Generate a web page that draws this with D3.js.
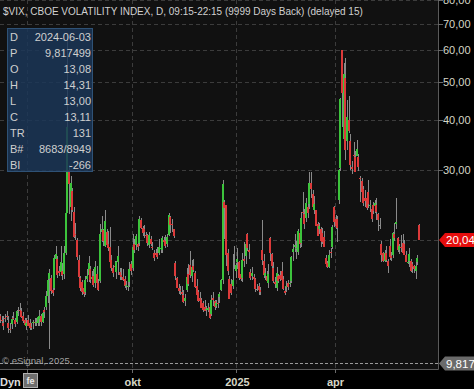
<!DOCTYPE html>
<html>
<head>
<meta charset="utf-8">
<script src="https://cdn.jsdelivr.net/npm/d3@7"></script>
<style>
html, body { margin: 0; padding: 0; background: #000; overflow: hidden; }
svg { display: block; font-family: "Liberation Sans", Arial, sans-serif; }
</style>
</head>
<body>
<div id="chart"></div>
<script>
// daily candles: date, open, high, low, close
var jun24 = [
  ["2024-06-05",12.9,13.1,12.4,12.63],["2024-06-06",12.6,12.9,12.3,12.58],["2024-06-07",12.4,12.9,11.9,12.22],
  ["2024-06-10",12.8,13.1,12.5,12.74],["2024-06-11",12.9,13.3,12.6,12.85],["2024-06-12",12.4,12.9,11.7,12.04],
  ["2024-06-13",12.0,12.4,11.7,11.94],["2024-06-14",12.3,12.9,12.0,12.66],["2024-06-17",12.8,13.2,12.6,12.75],
  ["2024-06-18",12.6,12.8,12.1,12.30],["2024-06-20",12.5,13.4,12.3,13.28],["2024-06-21",13.2,13.6,12.9,13.20],
  ["2024-06-24",13.4,13.9,12.9,13.33],["2024-06-25",13.3,13.5,12.8,12.84],["2024-06-26",12.9,13.2,12.4,12.55],
  ["2024-06-27",12.6,12.8,12.2,12.24],["2024-06-28",12.2,12.8,11.9,12.44]
];
var jul24 = [
  ["2024-07-01",12.6,13.0,12.2,12.22],["2024-07-02",12.4,12.7,11.9,12.03],["2024-07-03",12.1,12.4,11.9,12.09],
  ["2024-07-05",12.4,12.6,12.0,12.48],["2024-07-08",12.5,12.8,12.2,12.37],["2024-07-09",12.4,12.8,12.2,12.51],
  ["2024-07-10",12.4,12.9,12.2,12.85],["2024-07-11",12.7,13.4,12.2,12.89],["2024-07-12",12.9,13.1,12.2,12.46],
  ["2024-07-15",12.5,13.4,12.4,13.12],["2024-07-16",13.4,13.6,12.8,13.19],["2024-07-17",13.6,14.9,13.4,14.48],
  ["2024-07-18",14.5,16.4,13.9,15.93],["2024-07-19",16.0,16.9,10.7,16.52],["2024-07-22",16.1,16.4,14.7,14.91],
  ["2024-07-23",15.0,15.4,14.5,14.72],["2024-07-24",15.2,18.4,15.0,18.04],["2024-07-25",18.0,19.4,17.3,18.46],
  ["2024-07-26",18.0,18.3,16.1,16.39],["2024-07-29",16.8,17.2,16.3,16.60],["2024-07-30",16.7,19.4,16.3,17.69],
  ["2024-07-31",16.8,17.5,15.9,16.36]
];
var aug24 = [
  ["2024-08-01",16.5,19.4,16.0,18.59],["2024-08-02",18.6,29.7,18.4,23.39],["2024-08-05",23.4,65.7,23.4,38.57],
  ["2024-08-06",30.0,31.0,23.3,27.71],["2024-08-07",24.3,29.0,22.4,27.85],["2024-08-08",26.6,27.0,23.5,23.79],
  ["2024-08-09",23.5,24.2,20.3,20.37],["2024-08-12",20.8,22.1,20.0,20.71],["2024-08-13",20.0,20.3,17.9,18.12],
  ["2024-08-14",17.9,18.4,16.0,16.19],["2024-08-15",16.1,16.3,14.9,15.23],["2024-08-16",15.7,15.9,14.6,14.80],
  ["2024-08-19",15.2,15.3,14.4,14.65],["2024-08-20",14.8,16.3,14.6,15.88],["2024-08-21",16.0,16.9,15.7,16.27],
  ["2024-08-22",16.4,18.3,15.7,17.55],["2024-08-23",16.9,17.2,15.6,15.86],["2024-08-26",16.0,16.8,15.7,16.15],
  ["2024-08-27",16.3,16.9,15.3,15.43],["2024-08-28",15.6,17.8,15.2,17.11],["2024-08-29",16.5,17.2,15.2,15.65],
  ["2024-08-30",15.6,16.0,14.9,15.00]
];
var sep24 = [
  ["2024-09-03",15.8,22.0,15.6,20.72],["2024-09-04",21.0,23.0,19.8,21.32],["2024-09-05",21.2,21.4,19.4,19.90],
  ["2024-09-06",19.4,23.8,19.2,22.38],["2024-09-09",21.0,21.3,19.1,19.45],["2024-09-10",19.6,21.1,18.8,19.08],
  ["2024-09-11",19.2,21.6,17.4,17.69],["2024-09-12",17.9,18.4,16.8,17.07],["2024-09-13",17.0,17.3,16.2,16.56],
  ["2024-09-16",17.2,17.8,16.8,17.14],["2024-09-17",16.7,17.8,16.0,17.61],["2024-09-18",17.6,19.4,16.4,18.23],
  ["2024-09-19",16.7,17.0,15.9,16.33],["2024-09-20",16.4,17.0,15.9,16.15],["2024-09-23",16.2,16.9,15.8,15.89],
  ["2024-09-24",16.0,16.3,15.2,15.39],["2024-09-25",15.4,15.8,15.0,15.41],["2024-09-26",15.3,15.7,14.9,15.37],
  ["2024-09-27",15.7,17.6,15.3,16.96],["2024-09-30",17.4,17.8,16.4,16.73]
];
var oct24 = [
  ["2024-10-01",17.0,20.7,16.8,19.26],["2024-10-02",19.6,20.2,18.6,18.90],["2024-10-03",19.5,20.7,18.9,20.49],
  ["2024-10-04",19.6,20.0,18.8,19.21],["2024-10-07",19.7,23.0,19.4,22.64],["2024-10-08",22.5,22.8,21.3,21.42],
  ["2024-10-09",21.5,21.7,20.5,20.86],["2024-10-10",21.3,21.9,20.3,20.93],["2024-10-11",20.6,21.0,20.2,20.46],
  ["2024-10-14",20.6,20.8,19.4,19.70],["2024-10-15",19.5,21.0,19.1,20.64],["2024-10-16",20.2,20.5,19.4,19.58],
  ["2024-10-17",19.3,19.8,18.9,19.11],["2024-10-18",18.6,18.9,17.8,18.03],["2024-10-21",18.6,19.0,18.2,18.37],
  ["2024-10-22",18.6,19.2,18.0,18.20],["2024-10-23",18.6,20.2,18.4,19.24],["2024-10-24",19.0,19.5,18.6,19.08],
  ["2024-10-25",18.9,20.5,18.6,20.33],["2024-10-28",20.0,20.4,19.5,19.80],["2024-10-29",19.9,20.6,19.1,19.34],
  ["2024-10-30",19.6,20.8,19.3,20.35],["2024-10-31",20.6,23.4,20.5,23.16]
];
var nov24 = [
  ["2024-11-01",22.9,23.0,20.9,21.88],["2024-11-04",22.0,22.6,21.0,21.98],["2024-11-05",21.3,21.4,20.3,20.49],
  ["2024-11-06",17.5,17.8,15.9,16.27],["2024-11-07",16.1,16.2,15.2,15.20],["2024-11-08",15.2,15.5,14.7,14.94],
  ["2024-11-11",15.0,15.4,14.6,14.97],["2024-11-12",14.8,15.4,14.5,14.71],["2024-11-13",14.6,15.0,13.9,14.02],
  ["2024-11-14",14.1,14.7,13.7,14.31],["2024-11-15",15.0,17.0,14.8,16.14],["2024-11-18",16.5,17.4,15.4,15.58],
  ["2024-11-19",17.3,18.8,16.1,16.35],["2024-11-20",16.3,17.9,15.7,17.16],["2024-11-21",17.2,18.0,16.7,16.87],
  ["2024-11-22",16.6,16.8,15.2,15.24],["2024-11-25",15.4,16.0,14.5,14.60],["2024-11-26",14.8,15.0,14.0,14.10],
  ["2024-11-27",14.3,14.8,13.9,14.10],["2024-11-29",14.2,14.3,13.5,13.51]
];
var dec24 = [
  ["2024-12-02",13.9,14.1,13.2,13.34],["2024-12-03",13.6,14.2,13.3,13.30],["2024-12-04",13.4,13.7,12.9,13.45],
  ["2024-12-05",13.4,13.9,13.2,13.54],["2024-12-06",13.6,13.8,12.7,12.77],["2024-12-09",13.1,14.6,12.9,14.19],
  ["2024-12-10",14.3,14.8,13.7,14.18],["2024-12-11",14.1,14.2,13.4,13.58],["2024-12-12",13.7,14.2,13.5,13.92],
  ["2024-12-13",13.9,14.4,13.5,13.81],["2024-12-16",14.4,14.8,13.9,14.69],["2024-12-17",15.0,16.0,14.9,15.87],
  ["2024-12-18",15.9,28.3,15.5,27.62],["2024-12-19",25.0,25.3,20.1,24.09],["2024-12-20",24.6,24.6,17.2,18.36],
  ["2024-12-23",18.6,19.0,16.4,16.78],["2024-12-24",16.0,16.3,14.3,14.27],["2024-12-26",15.5,16.0,14.6,14.73],
  ["2024-12-27",15.4,18.5,15.1,15.95],["2024-12-30",17.4,19.4,16.9,17.40],["2024-12-31",16.8,17.5,16.1,17.35]
];
var jan25 = [
  ["2025-01-02",17.6,19.1,16.9,17.93],["2025-01-03",17.6,17.8,15.9,16.13],["2025-01-06",16.5,17.0,15.8,16.04],
  ["2025-01-07",16.1,18.6,15.7,17.82],["2025-01-08",18.0,19.8,17.1,17.70],["2025-01-10",18.3,20.0,17.4,19.54],
  ["2025-01-13",20.7,20.9,18.8,19.19],["2025-01-14",18.9,19.6,18.0,18.71],["2025-01-15",16.7,16.9,15.9,16.12],
  ["2025-01-16",16.3,17.1,15.9,16.60],["2025-01-17",16.2,16.5,15.6,15.97],["2025-01-21",16.0,16.1,14.8,15.06],
  ["2025-01-22",15.1,15.5,14.9,15.10],["2025-01-23",15.4,15.6,14.6,15.02],["2025-01-24",15.0,15.3,14.6,14.85],
  ["2025-01-27",18.9,22.5,17.3,17.90],["2025-01-28",17.8,18.5,16.1,16.41],["2025-01-29",16.3,17.0,15.9,16.56],
  ["2025-01-30",16.3,16.8,15.6,15.84],["2025-01-31",15.6,17.4,15.2,16.43]
];
var feb25 = [
  ["2025-02-03",20.3,20.4,17.8,18.62],["2025-02-04",18.5,18.6,16.8,17.21],["2025-02-05",17.0,17.6,15.6,15.77],
  ["2025-02-06",15.7,16.2,15.2,15.50],["2025-02-07",15.2,17.1,14.9,16.54],["2025-02-10",16.3,16.5,15.6,15.81],
  ["2025-02-11",16.4,16.8,15.8,16.02],["2025-02-12",16.8,17.6,15.8,15.89],["2025-02-13",16.0,16.3,15.0,15.10],
  ["2025-02-14",14.9,15.3,14.6,14.77],["2025-02-18",15.3,15.8,14.8,15.35],["2025-02-19",15.6,15.9,15.0,15.27],
  ["2025-02-20",15.5,16.4,15.3,15.66],["2025-02-21",15.8,18.3,15.6,18.21],["2025-02-24",18.7,19.6,17.8,18.98],
  ["2025-02-25",19.2,20.7,18.7,19.43],["2025-02-26",19.0,19.9,18.0,19.10],["2025-02-27",18.7,21.3,18.4,21.13],
  ["2025-02-28",20.9,21.5,19.1,19.63]
];
var mar25 = [
  ["2025-03-03",19.7,23.5,19.3,22.78],["2025-03-04",23.6,26.4,22.0,23.51],["2025-03-05",23.3,24.0,21.3,21.93],
  ["2025-03-06",22.8,25.5,22.3,24.87],["2025-03-07",24.2,26.6,22.8,23.37],["2025-03-10",24.7,29.6,24.0,27.86],
  ["2025-03-11",27.9,29.6,25.6,26.92],["2025-03-12",26.1,26.7,23.9,24.23],["2025-03-13",23.8,25.9,23.3,24.66],
  ["2025-03-14",23.8,23.9,21.7,21.77],["2025-03-17",22.0,22.3,20.5,20.51],["2025-03-18",21.3,22.1,20.7,21.70],
  ["2025-03-19",21.3,21.6,19.3,19.90],["2025-03-20",20.9,21.5,19.6,19.80],["2025-03-21",20.4,21.1,19.2,19.28],
  ["2025-03-24",18.1,18.4,17.2,17.48],["2025-03-25",17.5,17.7,17.0,17.15],["2025-03-26",17.1,18.9,17.0,18.33],
  ["2025-03-27",18.7,19.1,18.1,18.69],["2025-03-28",19.2,21.8,19.0,21.65],["2025-03-31",24.2,24.4,21.6,22.28]
];
var apr25 = [
  ["2025-04-01",22.6,23.2,21.3,21.77],["2025-04-02",22.6,23.0,19.8,21.51],["2025-04-03",25.3,30.2,24.7,30.02],
  ["2025-04-04",30.4,45.6,29.8,45.31],["2025-04-07",60.1,60.1,38.6,46.98],["2025-04-08",36.0,55.7,35.4,52.33],
  ["2025-04-09",51.0,57.5,31.9,33.62],["2025-04-10",35.5,45.0,33.8,40.72],["2025-04-11",40.0,46.1,37.2,37.56],
  ["2025-04-14",35.6,36.9,30.1,30.89],["2025-04-15",30.5,31.6,29.4,30.12],["2025-04-16",32.7,35.4,30.3,32.64],
  ["2025-04-17",32.4,33.5,29.6,29.65],["2025-04-21",32.6,35.7,32.5,33.82],["2025-04-22",32.4,32.9,29.9,30.57],
  ["2025-04-23",28.7,29.0,25.0,28.45],["2025-04-24",28.2,28.6,26.0,26.47],["2025-04-25",26.9,27.3,24.4,24.84],
  ["2025-04-28",25.5,26.7,24.3,25.15],["2025-04-29",25.6,25.8,23.9,24.17],["2025-04-30",26.4,28.4,24.1,24.70]
];
var may25 = [
  ["2025-05-01",24.4,25.3,23.6,24.60],["2025-05-02",24.0,24.1,22.3,22.68],["2025-05-05",24.6,25.0,23.3,23.64],
  ["2025-05-06",24.4,25.3,23.4,24.76],["2025-05-07",24.6,25.6,22.5,23.55],["2025-05-08",23.3,23.4,21.1,22.48],
  ["2025-05-09",21.9,22.7,21.4,21.90],["2025-05-12",19.6,19.9,17.6,18.39],["2025-05-13",18.6,18.7,17.6,17.72],
  ["2025-05-14",17.8,18.9,17.6,18.62],["2025-05-15",18.6,19.4,17.6,17.83],["2025-05-16",17.7,18.0,16.6,17.24],
  ["2025-05-19",19.4,20.2,17.9,18.14],["2025-05-20",18.3,18.7,17.7,18.09],["2025-05-21",18.4,21.0,18.1,20.87],
  ["2025-05-22",20.7,22.1,19.9,20.28],["2025-05-23",22.0,25.5,21.4,22.29],["2025-05-27",20.3,20.4,18.7,18.96],
  ["2025-05-28",18.9,19.6,18.5,19.31],["2025-05-29",19.3,20.6,18.7,19.18],["2025-05-30",19.7,20.8,18.4,18.57]
];
var jun25 = [
  ["2025-06-02",19.6,20.0,18.4,18.36],["2025-06-03",18.4,18.8,17.6,17.69],["2025-06-04",17.6,18.0,17.4,17.68],
  ["2025-06-05",17.7,19.1,17.1,18.48],["2025-06-06",17.8,18.0,16.7,16.77],["2025-06-09",17.4,17.6,16.6,17.16],
  ["2025-06-10",17.2,17.3,16.6,16.95],["2025-06-11",16.8,17.7,16.0,17.26],["2025-06-12",17.6,18.4,17.3,18.02],
  ["2025-06-13",21.8,22.0,20.0,20.04]
];

// axis values
var priceTicks = [20, 30, 40, 50, 60, 70, 80];
var tickDates = ["2024-07-01", "2024-10-01", "2025-01-02", "2025-04-01"];
var tickLabels = ["", "okt", "2025", "apr"];
var lastPrice = 20.04;
var cursorPrice = 9.817499;
var infoKeys = ["D", "P", "O", "H", "L", "C", "TR", "B#", "BI"];
var infoVals = ["2024-06-03", "9,817499", "13,08", "14,31", "13,00", "13,11", "131", "8683/8949", "-266"];

var width = 474, height = 389;
var plotW = 438, plotH = 369;

var bars = [].concat(jun24, jul24, aug24, sep24, oct24, nov24, dec24, jan25, feb25, mar25, apr25, may25, jun25)
  .map(function(r, i) { return {i: i, date: r[0], o: r[1], h: r[2], l: r[3], c: r[4]}; });

var x = d3.scaleLinear().domain([0, bars.length - 1]).range([-0.8, 418]);
var y = d3.scaleLog().domain([9.51, 80.2]).range([plotH, 0]);
var fmt = function(v) { return d3.format(".2f")(v).replace(".", ","); };

var svg = d3.select("#chart").append("svg")
  .attr("width", width).attr("height", height);

svg.append("rect").attr("width", width).attr("height", height).attr("fill", "#000");
svg.append("rect").attr("width", plotW).attr("height", plotH).attr("fill", "#111111");

svg.append("clipPath").attr("id", "clip")
  .append("rect").attr("width", plotW).attr("height", plotH);

// grid
var grid = svg.append("g").attr("stroke", "#3c3c3c").attr("stroke-dasharray", "4,3").attr("shape-rendering", "crispEdges");
grid.selectAll("line.h").data(priceTicks).enter().append("line")
  .attr("x1", 0).attr("x2", plotW)
  .attr("y1", function(d) { return Math.round(y(d)) + 0.5; })
  .attr("y2", function(d) { return Math.round(y(d)) + 0.5; });
var tickIdx = tickDates.map(function(d) { return bars.findIndex(function(b) { return b.date === d; }); });
grid.selectAll("line.v").data(tickIdx).enter().append("line")
  .attr("y1", 0).attr("y2", plotH)
  .attr("x1", function(d) { return Math.round(x(d)) + 0.5; })
  .attr("x2", function(d) { return Math.round(x(d)) + 0.5; });

// candles
var cg = svg.append("g").attr("clip-path", "url(#clip)").attr("shape-rendering", "crispEdges");
var candle = cg.selectAll("g").data(bars).enter().append("g");
candle.append("line")
  .attr("x1", function(d) { return Math.round(x(d.i)) + 1.5; })
  .attr("x2", function(d) { return Math.round(x(d.i)) + 1.5; })
  .attr("y1", function(d) { return y(d.h); })
  .attr("y2", function(d) { return y(d.l); })
  .attr("stroke", "#8a8a8a").attr("stroke-width", 1);
candle.append("rect")
  .attr("x", function(d) { return Math.round(x(d.i)); })
  .attr("width", 2)
  .attr("y", function(d) { return y(Math.max(d.o, d.c)); })
  .attr("height", function(d) { return Math.max(1, Math.abs(y(d.o) - y(d.c))); })
  .attr("fill", function(d) { return d.c > d.o ? "#3cc43c" : d.c < d.o ? "#dc3a3a" : "#8a8a8a"; });

// frame
svg.append("line").attr("x1", plotW + 0.5).attr("x2", plotW + 0.5).attr("y1", 0).attr("y2", plotH + 0.5)
  .attr("stroke", "#5a5a5a");
svg.append("line").attr("x1", 0).attr("x2", plotW + 0.5).attr("y1", plotH + 0.5).attr("y2", plotH + 0.5)
  .attr("stroke", "#5a5a5a");

// right axis
var ya = svg.append("g").attr("font-size", "11px").attr("fill", "#d6d6c6");
ya.selectAll("line").data(priceTicks.slice(1)).enter().append("line")
  .attr("x1", plotW).attr("x2", plotW + 5)
  .attr("y1", function(d) { return Math.round(y(d)) + 0.5; })
  .attr("y2", function(d) { return Math.round(y(d)) + 0.5; })
  .attr("stroke", "#6a6a6a");
ya.selectAll("text").data(priceTicks.slice(1)).enter().append("text")
  .attr("x", plotW + 5).attr("y", function(d) { return y(d); })
  .attr("dy", "0.36em").text(fmt);

// bottom axis
var xa = svg.append("g").attr("font-size", "11px").attr("font-weight", "bold").attr("fill", "#d6d6c6").attr("text-anchor", "middle");
xa.selectAll("line").data(tickIdx).enter().append("line")
  .attr("x1", function(d) { return Math.round(x(d)) + 0.5; })
  .attr("x2", function(d) { return Math.round(x(d)) + 0.5; })
  .attr("y1", plotH).attr("y2", plotH + 4).attr("stroke", "#6a6a6a");
xa.selectAll("text").data(tickIdx).enter().append("text")
  .attr("x", function(d) { return x(d) + 1; }).attr("y", 386)
  .text(function(d, i) { return tickLabels[i]; });

// cursor line + copyright
svg.append("line").attr("x1", 0).attr("x2", plotW).attr("y1", Math.round(y(cursorPrice)) + 0.5).attr("y2", Math.round(y(cursorPrice)) + 0.5)
  .attr("stroke", "#9a9a9a").attr("stroke-dasharray", "3,2").attr("shape-rendering", "crispEdges");
svg.append("text").attr("x", 2).attr("y", 364).attr("font-size", "9.5px").attr("fill", "#a0a0a0").text("\u00a9 eSignal, 2025");

// price labels on right axis
function priceTag(v, txt, fill) {
  var yy = y(v);
  var g = svg.append("g");
  g.append("path")
    .attr("d", "M" + (plotW + 1) + "," + yy + "L" + (plotW + 7) + "," + (yy - 7) + "L" + width + "," + (yy - 7) +
      "L" + width + "," + (yy + 7) + "L" + (plotW + 7) + "," + (yy + 7) + "Z")
    .attr("fill", fill);
  g.append("text").attr("x", plotW + 8).attr("y", yy).attr("dy", "0.36em")
    .attr("font-size", "11.5px").attr("fill", "#fff").text(txt);
}
priceTag(lastPrice, fmt(lastPrice), "#e50d0d");
priceTag(cursorPrice, "9,817499", "#6a6a6a");

// info box
var box = svg.append("g");
box.append("rect").attr("x", 7.5).attr("y", 28.5).attr("width", 85).attr("height", 143)
  .attr("fill", "#1b3657").attr("fill-opacity", 0.85).attr("stroke", "#2f5276");
box.selectAll("text.k").data(infoKeys).enter().append("text")
  .attr("x", 10).attr("y", function(d, i) { return 37 + i * 16; }).attr("dy", "0.36em")
  .attr("font-size", "11px").attr("fill", "#cfcfcf").text(function(d) { return d; });
box.selectAll("text.v").data(infoVals).enter().append("text")
  .attr("x", 91).attr("y", function(d, i) { return 37 + i * 16; }).attr("dy", "0.36em")
  .attr("text-anchor", "end").attr("font-size", "11px").attr("fill", "#cfcfcf").text(function(d) { return d; });

// title
svg.append("text").attr("x", 3).attr("y", 11).attr("dy", "0.36em")
  .attr("font-size", "10px").attr("fill", "#d0d0d0")
  .text("$VIX, CBOE VOLATILITY INDEX, D, 09:15-22:15 (9999 Days Back) (delayed 15)");

// Dyn button
svg.append("text").attr("x", 0).attr("y", 386).attr("font-size", "11px").attr("font-weight", "bold")
  .attr("fill", "#dcdcdc").text("Dyn");
svg.append("rect").attr("x", 23.5).attr("y", 373.5).attr("width", 14).attr("height", 14)
  .attr("fill", "#6e6e6e").attr("stroke", "#b0b0b0");
svg.append("text").attr("x", 30.5).attr("y", 384).attr("text-anchor", "middle").attr("font-size", "9px")
  .attr("font-weight", "bold").attr("fill", "#e8e8e8").text("fe");
</script>
</body>
</html>
